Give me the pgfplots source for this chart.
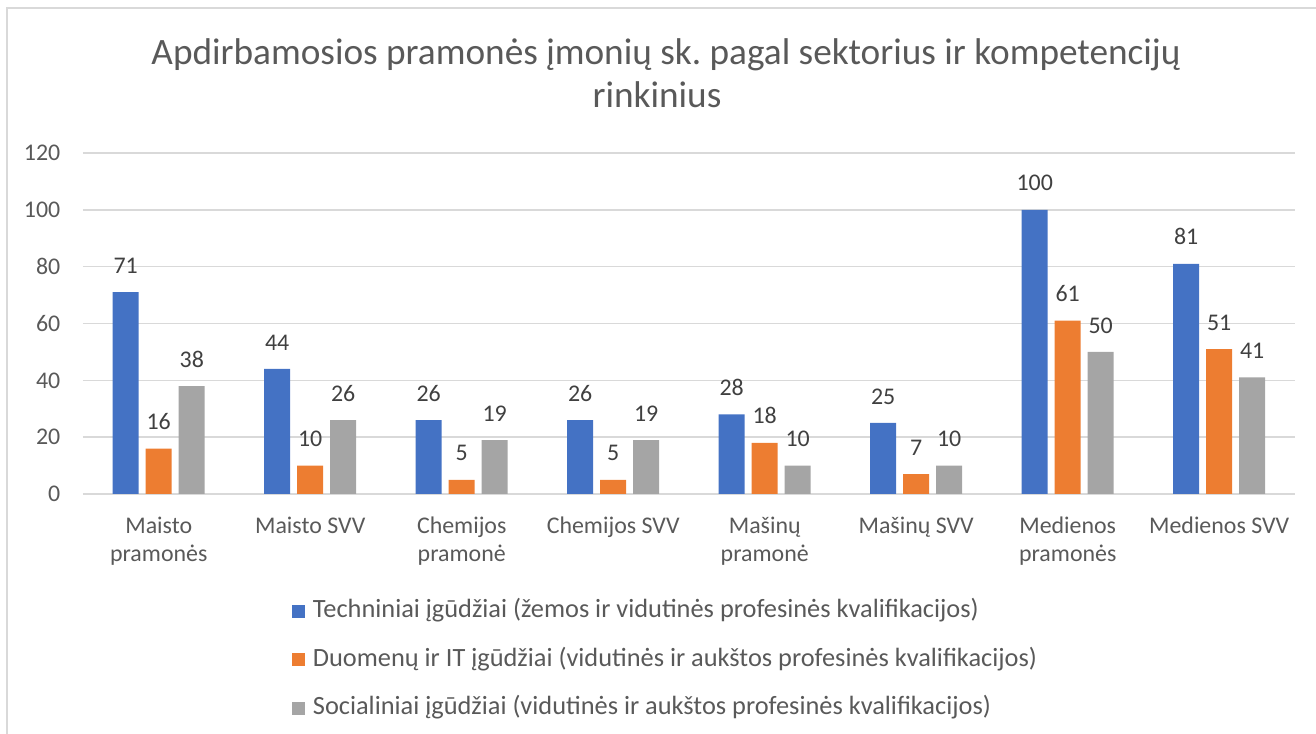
\documentclass[border=0pt]{standalone}
\usepackage{fontspec}
\setmainfont{Carlito}
\usepackage{pgfplots}
\pgfplotsset{compat=1.18}
\definecolor{sblue}{RGB}{68,114,196}
\definecolor{sorange}{RGB}{237,125,49}
\definecolor{sgray}{RGB}{165,165,165}
\definecolor{txt}{RGB}{89,89,89}
\definecolor{lbl}{RGB}{64,64,64}
\definecolor{gridc}{RGB}{217,217,217}
\frenchspacing

\begin{document}
\begin{tikzpicture}
% chart area frame (only top and left edges are inside the picture)
\draw[gridc, line width=0.12mm] (0.7mm,-74mm) -- (0.7mm,-0.8mm) -- (132mm,-0.8mm);

\node[font=\fontsize{10.6}{12.6}\selectfont, text=txt, anchor=base] at (66.6mm,-6.45mm)
  {Apdirbamosios pramonės įmonių sk. pagal sektorius ir kompetencijų};
\node[font=\fontsize{10.6}{12.6}\selectfont, text=txt, anchor=base] at (65.7mm,-10.8mm)
  {rinkinius};

\begin{axis}[
  at={(8.3mm,-49.4mm)}, anchor=south west,
  scale only axis, width=121.2mm, height=34.1mm,
  ybar=0.7mm, bar width=2.6mm,
  xmin=-0.5, xmax=7.5, ymin=0, ymax=120,
  xtick={0,...,7},
  xticklabels={{Maisto\\pramonės},{Maisto SVV},{Chemijos\\pramonė},{Chemijos SVV},
               {Mašinų\\pramonė},{Mašinų SVV},{Medienos\\pramonės},{Medienos SVV}},
  ytick={0,20,...,120},
  /pgf/number format/assume math mode=true,
  axis line style={draw=none},
  major tick length=0pt,
  ymajorgrids, major grid style={gridc, line width=0.15mm},
  tick label style={font=\fontsize{6.8}{8.1}\selectfont, text=txt},
  yticklabel style={inner sep=0pt, xshift=-2.2mm},
  xticklabel style={align=center, inner sep=0pt, anchor=north, yshift=-2.2mm},
  nodes near coords,
  nodes near coords style={font=\fontsize{6.8}{8}\selectfont, text=lbl, anchor=south,
                           inner sep=0pt, yshift=1.8mm},
  legend style={at={(axis description cs:0.1724,-0.309)}, anchor=north west,
                draw=none, fill=none, inner sep=0pt, outer sep=0pt,
                font=\fontsize{7.5}{9}\selectfont, text=txt,
                row sep=7.1pt,
                nodes={inner sep=0pt, text height=5.2pt, text depth=1.5pt},
                /tikz/every odd column/.append style={column sep=0.8mm}},
  legend cell align=left,
  legend image code/.code={\fill[#1] (0mm,-0.65mm) rectangle (1.3mm,0.65mm);},
]
\addplot[fill=sblue, draw=none] coordinates
  {(0,71) (1,44) (2,26) (3,26) (4,28) (5,25) (6,100) (7,81)};
\addplot[fill=sorange, draw=none] coordinates
  {(0,16) (1,10) (2,5) (3,5) (4,18) (5,7) (6,61) (7,51)};
\addplot[fill=sgray, draw=none] coordinates
  {(0,38) (1,26) (2,19) (3,19) (4,10) (5,10) (6,50) (7,41)};
\legend{Techniniai įgūdžiai (žemos ir vidutinės profesinės kvalifikacijos),
        Duomenų ir IT įgūdžiai (vidutinės ir aukštos profesinės kvalifikacijos),
        Socialiniai įgūdžiai (vidutinės ir aukštos profesinės kvalifikacijos)}
\end{axis}

\pgfresetboundingbox
\path[use as bounding box] (0,0) rectangle (131.6mm,-73.4mm);
\end{tikzpicture}
\end{document}
